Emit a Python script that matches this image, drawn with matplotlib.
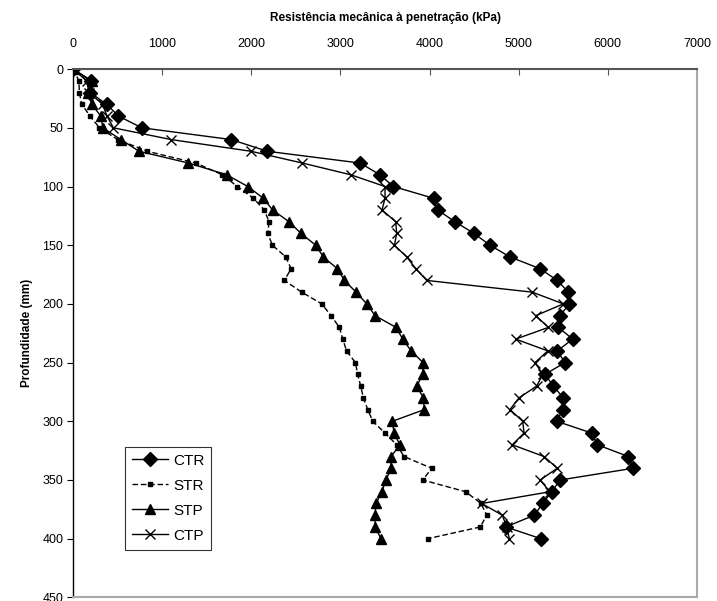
import matplotlib
matplotlib.use("Agg")
import matplotlib.pyplot as plt

plt.rcParams['font.family'] = ['Liberation Sans', 'DejaVu Sans']

depth = list(range(0, 401, 10))

ctr = [0, 200, 190, 378, 508, 771, 1773, 2180, 3220, 3444, 3593, 4045, 4089, 4285,
       4499, 4678, 4902, 5239, 5433, 5557, 5568, 5464, 5445, 5606, 5433, 5519, 5295,
       5389, 5501, 5494, 5426, 5819, 5882, 6230, 6286, 5464, 5370, 5269, 5175, 4854, 5250]

str_ = [0, 65, 70, 97, 190, 295, 500, 834, 1376, 1675, 1843, 2023, 2145, 2199,
        2184, 2236, 2386, 2446, 2371, 2565, 2790, 2894, 2988, 3026, 3068, 3168, 3193,
        3227, 3257, 3306, 3362, 3500, 3631, 3713, 4024, 3923, 4405, 4577, 4641, 4569, 3979]

stp = [0, 210, 170, 210, 310, 333, 535, 740, 1294, 1724, 1960, 2135, 2238, 2423,
       2558, 2722, 2808, 2965, 3044, 3175, 3295, 3388, 3623, 3699, 3792, 3927, 3923,
       3856, 3930, 3941, 3582, 3601, 3668, 3567, 3567, 3511, 3463, 3399, 3388, 3388, 3455]

ctp = [0, 150, 180, 330, 380, 452, 1099, 1997, 2572, 3115, 3500, 3500, 3466, 3620,
       3631, 3605, 3744, 3845, 3968, 5153, 5501, 5191, 5333, 4966, 5326, 5183, 5270,
       5202, 5004, 4902, 5045, 5060, 4928, 5284, 5433, 5239, 5351, 4585, 4816, 4865, 4895]

series_names = ['CTR', 'STR', 'STP', 'CTP']
x_ticks = [0, 1000, 2000, 3000, 4000, 5000, 6000, 7000]
y_ticks = [0, 50, 100, 150, 200, 250, 300, 350, 400, 450]

fig = plt.figure(figsize=(7.17, 6.01), dpi=100)
ax = fig.add_axes([0.102, 0.006, 0.870, 0.879])

lw = 1.0
ax.plot(ctr, depth, color='black', lw=lw, marker='D', ms=7, label=series_names[0])
ax.plot(str_, depth, color='black', lw=lw, ls=(0, (4, 2)), marker='s', ms=3.5,
        label=series_names[1])
ax.plot(stp, depth, color='black', lw=lw, marker='^', ms=7.5, label=series_names[2])
ax.plot(ctp, depth, color='black', lw=lw, marker='x', ms=7, mew=1.0, label=series_names[3])

ax.set_xlim(0, 7000)
ax.set_ylim(450, 0)
ax.set_xticks(x_ticks)
ax.set_yticks(y_ticks)
ax.xaxis.tick_top()
ax.xaxis.set_label_position('top')
ax.tick_params(axis='x', direction='in', length=4, labelsize=9, pad=14, color='#555555')
ax.tick_params(axis='y', direction='out', length=4, labelsize=9, pad=3)

ax.set_xlabel('Resistência mecânica à penetração (kPa)', fontsize=8.5, fontweight='bold',
              labelpad=12)
ax.set_ylabel('Profundidade (mm)', fontsize=8.5, fontweight='bold', labelpad=7)

ax.spines['top'].set_color('#555555')
ax.spines['top'].set_linewidth(1.5)
ax.spines['left'].set_color('black')
ax.spines['left'].set_linewidth(1.0)
ax.spines['right'].set_color('#aaaaaa')
ax.spines['right'].set_linewidth(1.5)
ax.spines['bottom'].set_color('#aaaaaa')
ax.spines['bottom'].set_linewidth(1.5)

leg = ax.legend(loc='upper left', bbox_to_anchor=(0.083, 0.285), fontsize=11,
                frameon=True, fancybox=False, edgecolor='black', handlelength=2.4,
                borderpad=0.45, labelspacing=0.72, handletextpad=0.3, borderaxespad=0)
leg.get_frame().set_linewidth(0.8)

fig.savefig('out.png', dpi=100)
